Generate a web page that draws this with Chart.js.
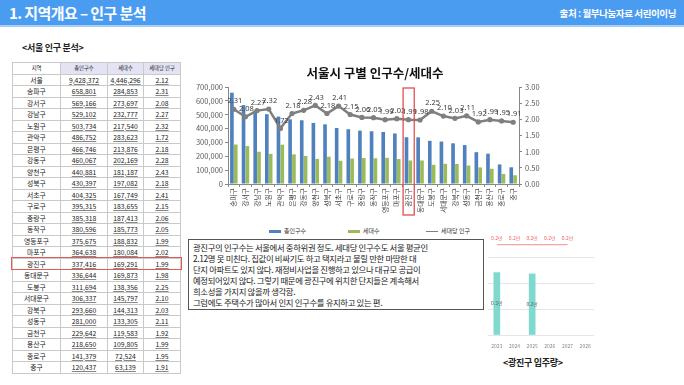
<!DOCTYPE html>
<html><head><meta charset="utf-8">
<script src="https://cdn.jsdelivr.net/npm/chart.js@4.4.1/dist/chart.umd.min.js"></script>
<style>
body{margin:0;width:684px;height:385px;background:#fff;position:relative;overflow:hidden;font-family:"Noto Sans CJK KR","Noto Sans",sans-serif;color:#222;}
#hdr{position:absolute;left:0;top:0;width:684px;height:25px;background:#4A9CF1;border-bottom:2px solid #A9CEF6;}
#hdr .t{position:absolute;left:9px;top:2px;font-size:15px;font-weight:bold;color:#fff;letter-spacing:-0.6px;}
#hdr .s{position:absolute;right:8px;top:6px;font-size:9.5px;font-weight:bold;color:#fff;letter-spacing:-0.4px;}
#tcap{position:absolute;left:22px;top:41px;font-size:9px;font-weight:bold;letter-spacing:-0.3px;}
#tbl{position:absolute;left:12px;top:62px;border-collapse:collapse;table-layout:fixed;}
#tbl td{border:1px solid #c9c9c9;padding:0;height:10.5px;line-height:10px;text-align:center;font-size:6.8px;white-space:nowrap;overflow:hidden;}
#tbl tr.h td{font-size:5.3px;}
#tbl tr.h td.p{background:#E4E3F3;}
#tbl td.n span{text-decoration:underline;text-decoration-color:#888;text-underline-offset:1px;}
#hl{position:absolute;border:1.5px solid #E05A5A;pointer-events:none;}
#main{position:absolute;left:185px;top:60px;width:380px;height:162px;}
#legend{position:absolute;left:185px;top:225px;width:380px;height:12px;font-size:6px;color:#333;}
#legend .it{position:absolute;top:0;height:12px;line-height:12px;}
#legend .sw{display:inline-block;width:12px;height:2.5px;vertical-align:middle;margin-right:3px;}
#box{position:absolute;left:188px;top:239px;width:286px;height:65px;border:1.5px solid #555;padding:2px 4px;font-size:8.4px;line-height:11px;letter-spacing:-0.35px;color:#222;white-space:nowrap;}
#small{position:absolute;left:480px;top:226px;width:120px;height:124px;}
#scap{position:absolute;left:503px;top:356px;font-size:9px;font-weight:bold;letter-spacing:-0.3px;}
</style></head>
<body>
<div id="hdr"><div class="t">1. 지역개요 – 인구 분석</div><div class="s">출처 : 월부나눔자료 서린이이닝</div></div>
<div id="tcap">&lt;서울 인구 분석&gt;</div>
<table id="tbl"></table>
<div id="hl"></div>
<canvas id="main" width="380" height="162"></canvas>
<div id="legend">
 <div class="it" style="left:84px"><span class="sw" style="background:#4F81BD"></span>총인구수</div>
 <div class="it" style="left:163px"><span class="sw" style="background:#9BBB59"></span>세대수</div>
 <div class="it" style="left:241px"><span class="sw" style="background:#7F7F7F;height:1.5px"></span>세대당 인구</div>
</div>
<div id="box">광진구의 인구수는 서울에서 중하위권 정도. 세대당 인구수도 서울 평균인<br>2.12명 못 미친다. 집값이 비싸기도 하고 택지라고 불릴 만한 마땅한 대<br>단지 아파트도 있지 않다. 재정비사업을 진행하고 있으나 대규모 공급이<br>예정되어있지 않다. 그렇기 때문에 광진구에 위치한 단지들은 계속해서<br>희소성을 가지지 않을까 생각함.<br>그럼에도 주택수가 많아서 인지 인구수를 유지하고 있는 편.</div>
<canvas id="small" width="120" height="124"></canvas>
<div id="scap">&lt;광진구 입주량&gt;</div>
<script>
// ---- data ----
const tableHeaders = ['지역','총인구수','세대수','세대당 인구'];
const seoulTotal = ['서울', 9428372, 4446296, 2.12];
const districts = ['송파구','강서구','강남구','노원구','관악구','은평구','강동구','양천구','성북구','서초구','구로구','중랑구','동작구','영등포구','마포구','광진구','동대문구','도봉구','서대문구','강북구','성동구','금천구','용산구','종로구','중구'];
const population = [658801,569166,529102,503734,486752,466746,460067,440881,430397,404325,395315,385318,380596,375675,364638,337416,336644,311694,306337,293660,281000,229642,218650,141379,120437];
const households = [284853,273697,232777,217540,283623,213876,202169,181187,197082,167749,183655,187413,185773,188832,180084,169291,169873,138356,145797,144313,133305,119583,109805,72524,63139];
const perHousehold = [2.31,2.08,2.27,2.32,1.72,2.18,2.28,2.43,2.18,2.41,2.15,2.06,2.05,1.99,2.02,1.99,1.98,2.25,2.10,2.03,2.11,1.92,1.99,1.95,1.91];
const highlightDistrict = '광진구';
const leftTicksMax = 700000, leftStep = 100000, rightTicksMax = 3, rightStep = 0.5;

const moveInYears = ['2023','2024','2025','2026','2027','2028'];
const moveInVolume = [0.24, null, 0.235, null, null, null]; // 만 세대
const moveInRefLine = [0.2, 0.2, 0.2, 0.2, 0.2, null];

// ---- table ----
const fmt = v => v.toLocaleString('en-US');
const tbl = document.getElementById('tbl');
const colW = [48,47,36,37];
let cg = '<colgroup>' + colW.map(w=>`<col style="width:${w}px">`).join('') + '</colgroup>';
let html = cg + '<tr class="h">' + tableHeaders.map((h,i)=>`<td class="${i?'p':''}">${h}</td>`).join('') + '</tr>';
const rows = [seoulTotal].concat(districts.map((d,i)=>[d,population[i],households[i],perHousehold[i]]));
rows.forEach(r=>{
  html += `<tr data-d="${r[0]}"><td>${r[0]}</td><td class="n"><span>${fmt(r[1])}</span></td><td class="n"><span>${fmt(r[2])}</span></td><td class="n"><span>${r[3].toFixed(2)}</span></td></tr>`;
});
tbl.innerHTML = html;
const hr = tbl.querySelector(`tr[data-d="${highlightDistrict}"]`).getBoundingClientRect();
const hl = document.getElementById('hl');
hl.style.left = (hr.left-2)+'px'; hl.style.top = (hr.top-1)+'px';
hl.style.width = (hr.width+1)+'px'; hl.style.height = (hr.height-1)+'px';

// ---- charts ----
Chart.defaults.font.family = '"Noto Sans CJK KR","Noto Sans",sans-serif';
Chart.defaults.color = '#595959';

const valueLabels = {
  id:'valueLabels',
  afterDatasetsDraw(chart){
    const {ctx} = chart;
    chart.data.datasets.forEach((ds,i)=>{
      if(!ds.valueLabel) return;
      const meta = chart.getDatasetMeta(i);
      const o = ds.valueLabel;
      ctx.save();
      ctx.font = o.font; ctx.fillStyle = o.color; ctx.textAlign='center'; ctx.textBaseline='middle';
      meta.data.forEach((el,j)=>{
        const v = ds.data[j]; if(v==null) return;
        const y = o.mid ? (el.y+el.base)/2 : el.y + o.dy;
        ctx.fillText(o.format(v), el.x + (o.dx||0), y);
      });
      ctx.restore();
    });
  }
};

const highlightBox = {
  id:'highlightBox',
  afterDraw(chart){
    const xs = chart.scales.x, ca = chart.chartArea;
    const idx = districts.indexOf(highlightDistrict);
    const half = (xs.getPixelForValue(1)-xs.getPixelForValue(0))/2;
    const cx = xs.getPixelForValue(idx);
    const c = chart.ctx; c.save();
    c.strokeStyle = '#E05050'; c.lineWidth = 1.3;
    c.strokeRect(cx-half+0.5, ca.top+1, 2*half-0.5, ca.bottom-ca.top+30);
    c.restore();
  }
};

new Chart(document.getElementById('main'), {
  type:'bar',
  data:{
    labels: districts,
    datasets:[
      {type:'bar', label:'총인구수', data:population, backgroundColor:'#4F81BD', yAxisID:'y', order:2, categoryPercentage:0.66, barPercentage:0.95},
      {type:'bar', label:'세대수', data:households, backgroundColor:'#9BBB59', yAxisID:'y', order:2, categoryPercentage:0.66, barPercentage:0.95},
      {type:'line', label:'세대당 인구', data:perHousehold, yAxisID:'y1', order:0, borderColor:'#7F7F7F', backgroundColor:'#7F7F7F', borderWidth:2.5, pointRadius:2.6, pointBorderWidth:0, tension:0,
        valueLabel:{font:'7.5px "Noto Sans","Noto Sans CJK KR",sans-serif', color:'#404040', dy:-8, dx:1, format:v=>v.toFixed(2)}}
    ]
  },
  options:{
    responsive:false, maintainAspectRatio:false, animation:false, devicePixelRatio:1,
    layout:{padding:{left:0,right:0,top:0,bottom:0}},
    plugins:{
      legend:{display:false}, tooltip:{enabled:false},
      title:{display:true, text:'서울시 구별 인구수/세대수', color:'#111', font:{size:12.5, weight:'bold'}, padding:{top:6,bottom:6}}
    },
    scales:{
      x:{grid:{drawOnChartArea:false, color:'#888', tickLength:3}, border:{color:'#888'},
         ticks:{autoSkip:false, minRotation:90, maxRotation:90, font:{size:6.8}, color:'#444', padding:1},
         afterFit(a){a.height=38;}},
      y:{position:'left', min:0, max:leftTicksMax, grid:{drawOnChartArea:false, color:'#888', tickLength:3}, border:{color:'#888'},
         ticks:{stepSize:leftStep, font:{size:7.5}, padding:2, callback:v=>fmt(v)}, afterFit(a){a.width=43;}},
      y1:{position:'right', min:0, max:rightTicksMax, grid:{drawOnChartArea:false, color:'#888', tickLength:3}, border:{color:'#888'},
         ticks:{stepSize:rightStep, font:{size:7.5}, padding:3, callback:v=>Number(v).toFixed(2)}, afterFit(a){a.width=46;}}
    }
  },
  plugins:[valueLabels, highlightBox]
});

new Chart(document.getElementById('small'), {
  type:'bar',
  data:{
    labels: moveInYears,
    datasets:[
      {type:'line', data:moveInRefLine, yAxisID:'y2', borderColor:'#F5A3A3', borderWidth:1.3, pointRadius:0,
        valueLabel:{font:'5px "Noto Sans CJK KR",sans-serif', color:'#EE6666', dy:-6, format:v=>v.toFixed(1)+'만'}},
      {type:'bar', data:moveInVolume, yAxisID:'y', backgroundColor:'#7FD9CF', barThickness:6,
        valueLabel:{font:'5px "Noto Sans CJK KR",sans-serif', color:'#666', mid:true, format:v=>v.toFixed(1)+'만'}}
    ]
  },
  options:{
    responsive:false, maintainAspectRatio:false, animation:false, devicePixelRatio:1,
    layout:{padding:{left:8,right:6,top:5,bottom:0}},
    plugins:{legend:{display:false}, tooltip:{enabled:false}},
    scales:{
      x:{grid:{display:false}, border:{display:false}, ticks:{font:{size:5}, color:'#888', padding:0}, afterFit(a){a.height=15;}},
      y:{min:0, max:0.4, ticks:{display:false, stepSize:0.1}, border:{display:false},
         grid:{color:c=>c.tick && c.tick.value>=0.4 ? 'rgba(0,0,0,0)' : '#E6E6E6', tickLength:0}, afterFit(a){a.width=0;}},
      y2:{display:false, min:0, max:0.23}
    }
  },
  plugins:[valueLabels]
});
</script>
</body></html>
